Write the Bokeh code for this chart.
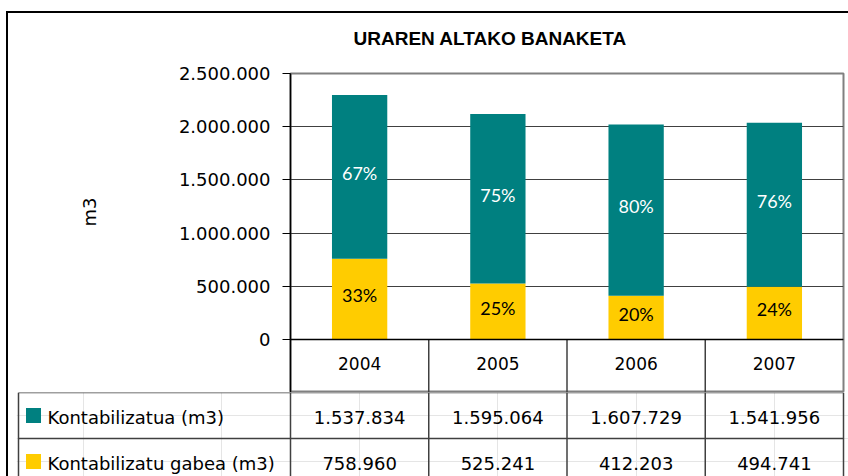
from bokeh.plotting import figure
from bokeh.models import Range1d, FixedTicker, Span, ColumnDataSource, Title, InlineStyleSheet
from bokeh.layouts import column
from bokeh.embed import file_html
from bokeh.resources import INLINE
from bokeh.core.properties import value

# ---------------- data ----------------
years = ["2004", "2005", "2006", "2007"]
kontabilizatua = [1537834, 1595064, 1607729, 1541956]
gabea = [758960, 525241, 412203, 494741]
series_names = ["Kontabilizatua (m3)", "Kontabilizatu gabea (m3)"]
ytick_values = [0, 500000, 1000000, 1500000, 2000000, 2500000]
ytick_labels = ["0", "500.000", "1.000.000", "1.500.000", "2.000.000", "2.500.000"]
title_text = "URAREN ALTAKO BANAKETA"
y_label = "m3"

# ---------------- style ----------------
TEAL = "#008080"
YELLOW = "#FFCC00"
LINE = "#404040"
FONT = "DejaVu Sans"

W, H = 848, 476
FR_L, FR_R = 290, 843          # frame left/right (px)
A_TOP, ZERO, A_BOT = 73, 339, 392
Y_MAX = ytick_values[-1]
unit = (FR_R - FR_L) / len(years)
chart_px = ZERO - A_TOP
year_px = A_BOT - ZERO
y_start = -Y_MAX * year_px / chart_px


def dx(px):
    """pixel x -> data x"""
    return -0.5 + (px - FR_L) / unit


def fmt(v):
    return f"{v:,}".replace(",", ".")


idx = list(range(len(years)))
totals = [a + b for a, b in zip(kontabilizatua, gabea)]
pct_k = [f"{round(k / t * 100)}%" for k, t in zip(kontabilizatua, totals)]
pct_g = [f"{round(g / t * 100)}%" for g, t in zip(gabea, totals)]

src = ColumnDataSource(dict(
    x=idx, years=years, kontabilizatua=kontabilizatua, gabea=gabea,
    yk=[g + k / 2 for g, k in zip(gabea, kontabilizatua)],
    yg=[g / 2 for g in gabea], pk=pct_k, pg=pct_g,
))

border_a = InlineStyleSheet(css="""
:host { position: relative; }
:host::after { content: ""; position: absolute; left: 6px; top: 11px; right: 0; bottom: 0;
  border-left: 2px solid #000; border-top: 2px solid #000; pointer-events: none; z-index: 50; }
""")
border_b = InlineStyleSheet(css="""
:host { position: relative; }
:host::after { content: ""; position: absolute; left: 6px; top: 0; width: 0; bottom: 0;
  border-left: 2px solid #000; pointer-events: none; z-index: 50; }
""")

# ---------------- chart ----------------
p = figure(width=W, height=A_BOT, x_range=Range1d(-0.5, len(years) - 0.5),
           y_range=Range1d(y_start, Y_MAX), output_backend="svg",
           toolbar_location=None, x_axis_location=None, title=None,
           min_border_left=FR_L, min_border_right=W - FR_R,
           min_border_top=A_TOP, min_border_bottom=0, frame_align=False,
           stylesheets=[border_a])
p.background_fill_color = "white"
p.border_fill_color = "white"
p.outline_line_color = "#808080"
p.outline_line_width = 2
p.xgrid.visible = False

ax = p.yaxis[0]
ax.ticker = FixedTicker(ticks=ytick_values)
ax.major_label_overrides = {v: l for v, l in zip(ytick_values, ytick_labels)}
ax.major_label_text_font = FONT
ax.major_label_text_font_size = "18px"
ax.major_label_text_color = "black"
ax.major_label_standoff = 12
ax.major_tick_out = 8
ax.major_tick_in = 0
ax.minor_tick_line_color = None
ax.axis_line_color = "black"
ax.axis_line_width = 1.5
ax.major_tick_line_color = "black"

p.ygrid.grid_line_color = LINE
p.ygrid.grid_line_width = 1

p.vbar_stack(["gabea", "kontabilizatua"], x="x", width=0.4,
             color=[YELLOW, TEAL], line_color=None, source=src)

p.add_layout(Span(location=0, dimension="width", line_color="black", line_width=1.5))

p.text(x="x", y="yk", text="pk", source=src, text_align="center",
       text_baseline="middle", text_color="white", y_offset=-4,
       text_font=value("Lato"), text_font_size="18px")
p.text(x="x", y="yg", text="pg", source=src, text_align="center",
       text_baseline="middle", text_color="black", y_offset=-4,
       text_font=value("Lato"), text_font_size="18px")

# year header row
p.segment(x0=[i + 0.5 for i in idx[:-1]], y0=y_start,
          x1=[i + 0.5 for i in idx[:-1]], y1=0, line_color=LINE, line_width=1.5)
p.text(x="x", y=y_start / 2, text="years", source=src, text_align="center",
       text_baseline="middle", text_color="black", y_offset=-3,
       text_font=value(FONT), text_font_size="17px")

p.add_layout(Title(text=title_text, align="left", offset=63, standoff=49,
                   text_font="Liberation Sans", text_font_style="bold",
                   text_font_size="19px", text_color="black"), "above")
p.add_layout(Title(text=y_label, align="left", offset=166, standoff=151,
                   text_font=FONT, text_font_style="normal",
                   text_font_size="18px", text_color="black"), "left")

# ---------------- data table ----------------
HB = H - A_BOT
ROW = 46
TB_L = 16
q = figure(width=W, height=HB, x_range=Range1d(dx(TB_L), dx(W)),
           y_range=Range1d(HB / ROW, 0), output_backend="svg",
           toolbar_location=None, x_axis_location=None, y_axis_location=None,
           title=None, min_border_left=TB_L, min_border_right=0,
           min_border_top=0, min_border_bottom=0, frame_align=False,
           stylesheets=[border_b])
q.outline_line_color = None
q.background_fill_color = "white"
q.border_fill_color = "white"

t_left = dx(18)
vx = [t_left] + [i - 0.5 for i in idx] + [len(years) - 0.5]
q.segment(x0=vx, y0=0, x1=vx, y1=3, line_color=LINE, line_width=1.5)
q.segment(x0=t_left, y0=[0, 1], x1=len(years) - 0.5, y1=[0, 1],
          line_color=LINE, line_width=1.5)

q.scatter(x=dx(33), y=[0.5, 1.5], marker="square", size=15,
          color=[TEAL, YELLOW], line_color=None)
q.text(x=dx(47), y=[0.5, 1.5], text=series_names, text_align="left",
       text_baseline="middle", y_offset=2, text_color="black",
       text_font=value(FONT), text_font_size="18px")

rows = [kontabilizatua, gabea]
cell_x, cell_y, cell_t = [], [], []
for r, series in enumerate(rows):
    for i, v in enumerate(series):
        cell_x.append(i)
        cell_y.append(r + 0.5)
        cell_t.append(fmt(v))
q.text(x=cell_x, y=cell_y, text=cell_t, text_align="center",
       text_baseline="middle", y_offset=2, text_color="black",
       text_font=value(FONT), text_font_size="18px")

layout = column(p, q, spacing=0)

open("out.html", "w").write(file_html(layout, INLINE))
